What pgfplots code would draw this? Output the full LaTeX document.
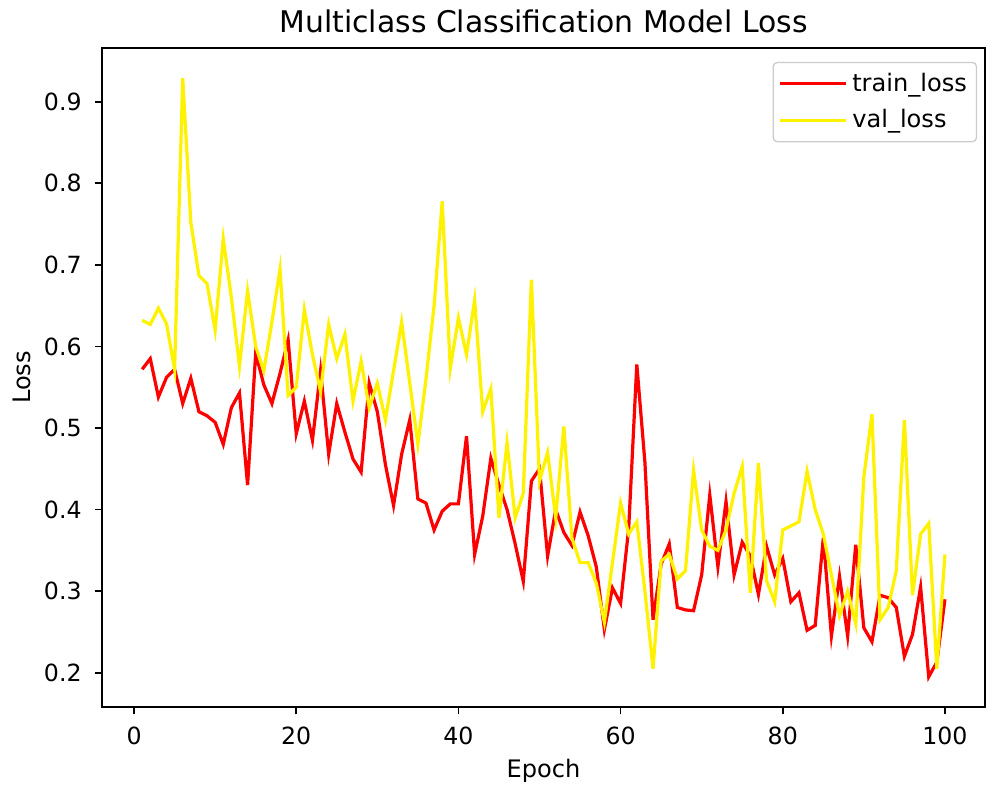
\documentclass[border=0pt]{standalone}
\usepackage{fontspec}
\setmainfont{DejaVu Sans}
\usepackage{pgfplots}
\usepackage{pgfplotstable}
\pgfplotsset{compat=1.18}

\pgfplotstableread{
epoch train val
1 0.572 0.632
2 0.585 0.627
3 0.538 0.647
4 0.562 0.628
5 0.572 0.572
6 0.530 0.929
7 0.561 0.752
8 0.520 0.687
9 0.515 0.677
10 0.507 0.620
11 0.480 0.732
12 0.525 0.660
13 0.543 0.576
14 0.430 0.668
15 0.592 0.600
16 0.553 0.570
17 0.530 0.630
18 0.567 0.695
19 0.608 0.540
20 0.493 0.550
21 0.533 0.645
22 0.485 0.590
23 0.570 0.545
24 0.468 0.627
25 0.530 0.585
26 0.495 0.615
27 0.462 0.533
28 0.446 0.582
29 0.555 0.525
30 0.520 0.555
31 0.455 0.510
32 0.405 0.570
33 0.468 0.630
34 0.510 0.555
35 0.413 0.480
36 0.408 0.560
37 0.375 0.650
38 0.398 0.778
39 0.407 0.573
40 0.407 0.635
41 0.490 0.590
42 0.345 0.657
43 0.392 0.520
44 0.463 0.548
45 0.430 0.390
46 0.400 0.482
47 0.358 0.390
48 0.312 0.420
49 0.435 0.682
50 0.450 0.435
51 0.343 0.470
52 0.400 0.390
53 0.372 0.502
54 0.356 0.365
55 0.397 0.335
56 0.368 0.335
57 0.330 0.310
58 0.253 0.262
59 0.304 0.335
60 0.285 0.408
61 0.377 0.370
62 0.578 0.385
63 0.458 0.300
64 0.265 0.205
65 0.333 0.337
66 0.358 0.345
67 0.280 0.315
68 0.277 0.325
69 0.276 0.448
70 0.320 0.375
71 0.418 0.355
72 0.330 0.350
73 0.410 0.375
74 0.320 0.420
75 0.360 0.453
76 0.343 0.298
77 0.296 0.457
78 0.355 0.313
79 0.320 0.287
80 0.340 0.375
81 0.287 0.380
82 0.298 0.385
83 0.252 0.447
84 0.258 0.400
85 0.365 0.370
86 0.245 0.320
87 0.318 0.270
88 0.245 0.300
89 0.357 0.260
90 0.255 0.440
91 0.238 0.517
92 0.295 0.265
93 0.292 0.280
94 0.280 0.325
95 0.220 0.510
96 0.247 0.295
97 0.305 0.370
98 0.195 0.383
99 0.213 0.205
100 0.290 0.345
}\losstable

\begin{document}
\begin{tikzpicture}
\useasboundingbox (-47.7bp,-36.5bp) rectangle (413.7bp,330.5bp);
\begin{axis}[
  scale only axis,
  width=412.8bp, height=308.1bp,
  at={(0,0)}, anchor=south west,
  xmin=-3.95, xmax=104.95,
  ymin=0.158, ymax=0.966,
  xtick={0,20,40,60,80,100},
  ytick={0.2,0.3,0.4,0.5,0.6,0.7,0.8,0.9},
  tick align=outside,
  tick pos=left,
  major tick length=3.5bp,
  every tick/.style={black, line width=0.8bp},
  axis line style={line width=0.8bp},
  /pgf/number format/assume math mode=true,
  y tick label style={/pgf/number format/fixed, /pgf/number format/fixed zerofill, /pgf/number format/precision=1},
  xticklabel style={anchor=north, inner sep=0pt, yshift=-5.8bp, font=\fontsize{11.1}{13}\selectfont},
  yticklabel style={anchor=east, inner sep=0pt, xshift=-5.85bp, font=\fontsize{11.1}{13}\selectfont},
  scaled y ticks=false,
  every axis title shift=0pt,
  title={Multiclass Classification Model Loss},
  title style={at={(axis description cs:0.5,1)}, anchor=base, inner sep=0pt, yshift=7.2bp, font=\fontsize{14}{16}\selectfont},
  xlabel={Epoch},
  xlabel style={at={(axis description cs:0.5,0)}, anchor=base, inner sep=0pt, yshift=-33bp, font=\fontsize{11.3}{13}\selectfont},
  ylabel={Loss},
  ylabel style={at={(axis description cs:0,0.5)}, anchor=center, inner sep=0pt, yshift=37.4bp, font=\fontsize{11.3}{13}\selectfont},
  legend style={at={(1,1)}, anchor=north east, xshift=-3.7bp, yshift=-6.5bp,
    draw=black!20, rounded corners=2pt, fill=white, fill opacity=0.8, text opacity=1,
    font=\fontsize{11.3}{13}\selectfont, inner xsep=2.5bp, inner ysep=3bp, row sep=3bp,
    line width=0.6bp},
  legend cell align=left,
  legend image code/.code={\draw[#1, line width=1.5bp] (0bp,0bp) -- (25.7bp,0bp); \path (0bp,0bp) -- (31bp,0bp);},
]
\addplot[red, line width=1.5bp] table[x=epoch, y=train] {\losstable};
\addlegendentry{train\_loss}
\addplot[yellow, line width=1.5bp] table[x=epoch, y=val] {\losstable};
\addlegendentry{val\_loss}
\end{axis}
\end{tikzpicture}
\end{document}
